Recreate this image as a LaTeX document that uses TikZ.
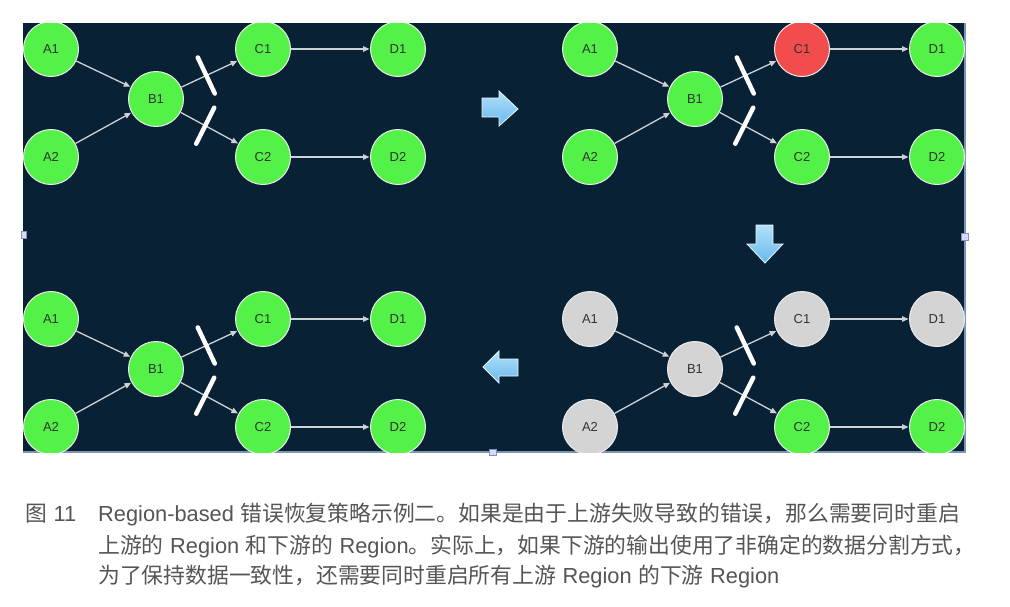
\documentclass[tikz,border=0pt]{standalone}
\usepackage{fontspec}
\newfontfamily\cjk{Noto Sans CJK SC}
\newfontfamily\lat{Liberation Sans}
\usetikzlibrary{arrows.meta,calc}
\definecolor{bgnavy}{RGB}{9,33,52}
\definecolor{ngreen}{RGB}{84,242,72}
\definecolor{nred}{RGB}{242,76,76}
\definecolor{ngray}{RGB}{212,212,212}
\definecolor{edgec}{RGB}{205,210,214}
\definecolor{capc}{RGB}{85,85,85}
\definecolor{bordc}{RGB}{125,148,180}
\definecolor{blueA}{RGB}{178,224,250}
\definecolor{blueB}{RGB}{104,184,236}
\tikzset{
  nd/.style={circle,minimum size=55pt,inner sep=0pt,draw=white!85!gray,line width=1pt,
    font=\lat\fontsize{13}{13}\selectfont,text=black!80},
  edge/.style={draw=edgec,line width=1.3pt,-{Triangle[length=6.5pt,width=5.5pt]},shorten >=0.5pt},
  cut/.style={draw=white,line width=4.5pt,line cap=round},
  blockarrow/.style={top color=blueA,bottom color=blueB,draw=white!75!blueA,line width=0.8pt},
  handle/.style={fill=white!85!blue,draw=bordc,line width=0.5pt},
  captext/.style={anchor=base west,inner sep=0pt,text=capc,font=\fontsize{21.8}{21.8}\selectfont}
}
\newcommand\drawpanel[9]{%
  \begin{scope}[shift={(#2,#3)}]
    \node[nd,fill=#4] (#1A1) at (51,49) {A1};
    \node[nd,fill=#4] (#1A2) at (51,157) {A2};
    \node[nd,fill=#5] (#1B1) at (156,99) {B1};
    \node[nd,fill=#6] (#1C1) at (263,49) {C1};
    \node[nd,fill=#7] (#1C2) at (263,157) {C2};
    \node[nd,fill=#8] (#1D1) at (398,49) {D1};
    \node[nd,fill=#9] (#1D2) at (398,157) {D2};
    \draw[edge] (#1A1) -- (#1B1);
    \draw[edge] (#1A2) -- (#1B1);
    \draw[edge] (#1B1) -- (#1C1);
    \draw[edge] (#1B1) -- (#1C2);
    \draw[edge] (#1C1) -- (#1D1);
    \draw[edge] (#1C2) -- (#1D2);
    \draw[cut] ($(#1B1)!0.47!(#1C1)$) ++(-8.5,-18) -- ++(17,36);
    \draw[cut] ($(#1B1)!0.46!(#1C2)$) ++(9,-18) -- ++(-18,36);
  \end{scope}}
\begin{document}
\begin{tikzpicture}[x=1pt,y=-1pt]
\useasboundingbox (0,0) rectangle (1010,606);
\fill[white] (0,0) rectangle (1010,606);
\fill[bgnavy] (23,23) rectangle (964,452);
\draw[bordc,line width=2.5pt] (965,23) -- (965,452);
\draw[bordc,line width=2pt] (23,452) -- (966,452);
\begin{scope}
\clip (23,23) rectangle (966,452);
\drawpanel{p}{0}{0}{ngreen}{ngreen}{ngreen}{ngreen}{ngreen}{ngreen}
\drawpanel{q}{539}{0}{ngreen}{ngreen}{nred}{ngreen}{ngreen}{ngreen}
\drawpanel{r}{539}{270}{ngray}{ngray}{ngray}{ngreen}{ngray}{ngreen}
\drawpanel{s}{0}{270}{ngreen}{ngreen}{ngreen}{ngreen}{ngreen}{ngreen}
\end{scope}
% block arrows
\shade[blockarrow] (482,98) -- (499,98) -- (499,91) -- (518,109) -- (499,126) -- (499,117) -- (482,117) -- cycle;
\shade[blockarrow] (756,225) -- (773,225) -- (773,244) -- (783,244) -- (765,263) -- (747,244) -- (756,244) -- cycle;
\shade[blockarrow] (518,359) -- (499,359) -- (499,351) -- (483,367) -- (499,383) -- (499,376) -- (518,376) -- cycle;
% selection handles
\filldraw[handle] (961.5,233.5) rectangle (968.5,240.5);
\filldraw[handle] (489.5,449) rectangle (496.5,455.5);
\filldraw[handle] (21,231.5) rectangle (26,238.5);
% caption
\node[captext] (fig) at (25,521) {{\cjk 图} {\lat 11}};
\node[captext] (l1) at (98,521) {{\lat Region-based} {\cjk 错误恢复策略示例二。如果是由于上游失败导致的错误，那么需要同时重启}};
\node[captext] (l2) at (98,553) {{\cjk 上游的} {\lat Region} {\cjk 和下游的} {\lat Region}{\cjk 。实际上，如果下游的输出使用了非确定的数据分割方式，}};
\node[captext] (l3) at (98,583) {{\cjk 为了保持数据一致性，还需要同时重启所有上游} {\lat Region} {\cjk 的下游} {\lat Region}};
\end{tikzpicture}
\end{document}
